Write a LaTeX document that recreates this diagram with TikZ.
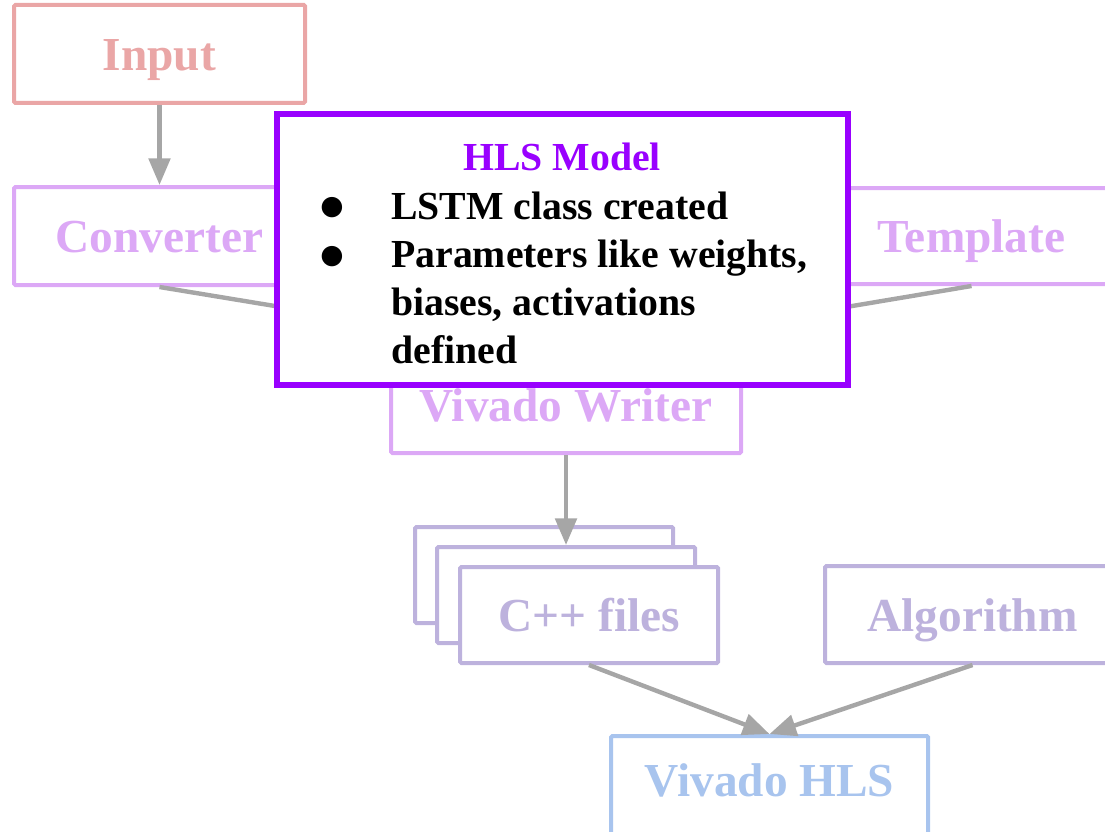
\documentclass[tikz,border=0pt]{standalone}
\usepackage{fontspec}
\setmainfont{Liberation Serif}
\newfontfamily\symfont{DejaVu Sans}
\usetikzlibrary{arrows.meta}

\definecolor{inred}{HTML}{EAA6A6}
\definecolor{convviolet}{HTML}{DCA8F6}
\definecolor{filelav}{HTML}{BDB2DD}
\definecolor{hlsblue}{HTML}{A8C4EE}
\definecolor{flowgray}{HTML}{A6A6A6}
\definecolor{modelpurple}{HTML}{9900FF}

\tikzset{
  flowbox/.style={draw, fill=white, line width=3pt, rounded corners=1pt,
    inner sep=0pt, font=\fontsize{35.5}{40}\selectfont\bfseries,
    text height=25pt, text depth=0pt},
  flowarrow/.style={draw=flowgray, line width=3.3pt,
    -{Triangle[length=20pt,width=16pt]}},
  modeltext/.style={inner sep=0pt, font=\fontsize{29.8}{36}\selectfont\bfseries},
  bulletmark/.style={inner sep=0pt, font=\symfont\fontsize{20}{20}\selectfont}
}

\begin{document}
\begin{tikzpicture}[x=0.75pt, y=-0.75pt]
  \useasboundingbox (0,0) rectangle (1105,831);
  \clip (0,0) rectangle (1105,831);

  % pipeline boxes
  \node[flowbox, draw=inred, text=inred, minimum width=218.25pt, minimum height=73.5pt]
    (input) at (159.5,54) {Input};
  \node[flowbox, draw=convviolet, text=convviolet, minimum width=218.25pt, minimum height=73.5pt]
    (converter) at (159.5,236) {Converter};
  \node[flowbox, draw=convviolet, text=convviolet, minimum width=220pt, minimum height=72pt]
    (template) at (971.5,236) {Template};
  \node[flowbox, draw=convviolet, text=convviolet, minimum width=262.5pt, minimum height=72.75pt]
    (writer) at (566,404.5) {Vivado Writer};

  % stacked C++ files
  \node[flowbox, draw=filelav, minimum width=193.5pt, minimum height=72pt]
    (cppback) at (544,575) {};
  \node[flowbox, draw=filelav, minimum width=193.5pt, minimum height=72pt]
    (cppmid) at (566,595) {};
  \node[flowbox, draw=filelav, text=filelav, minimum width=193.5pt, minimum height=72pt]
    (cpp) at (589,615) {C++ files};

  \node[flowbox, draw=filelav, text=filelav, minimum width=221pt, minimum height=72.75pt]
    (algorithm) at (972.5,614.5) {Algorithm};
  \node[flowbox, draw=hlsblue, text=hlsblue, minimum width=237.75pt, minimum height=73.5pt,
    text height=17pt] (vhls) at (769.5,785) {Vivado HLS};

  % connectors
  \draw[flowarrow] (input) -- (converter);
  \draw[flowarrow] (converter.south) -- (writer.north);
  \draw[flowarrow] (template.south) -- (writer.north);
  \draw[flowarrow] (writer.south) -- (cppmid.north);
  \draw[flowarrow] (cpp.south) -- (vhls.north);
  \draw[flowarrow] (algorithm.south) -- (vhls.north);

  % HLS model callout
  \node[draw=modelpurple, fill=white, line width=4.2pt, inner sep=0pt,
    minimum width=428.25pt, minimum height=203.25pt] (model) at (562.5,249.5) {};
  \node[modeltext, text=modelpurple, anchor=base] (modeltitle) at (562,171) {HLS Model};
  \node[bulletmark, anchor=center] (bulletone) at (332,208) {●};
  \node[bulletmark, anchor=center] (bullettwo) at (332,257) {●};
  \node[modeltext, anchor=base west] (itemone) at (391,219) {LSTM class created};
  % a multi-line node sits on the baseline of its last line
  \node[modeltext, anchor=base west, align=left] (itemtwo) at (391,363)
    {Parameters like weights,\\biases, activations\\defined};
\end{tikzpicture}
\end{document}
